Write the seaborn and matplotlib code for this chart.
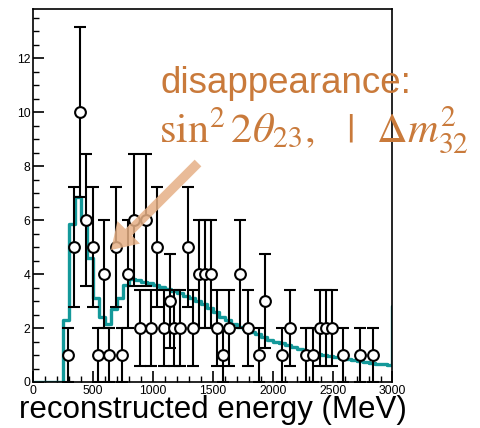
import numpy as np
import pandas as pd
import matplotlib
matplotlib.use("Agg")
import matplotlib.pyplot as plt
import seaborn as sns
from matplotlib.ticker import MultipleLocator

# ---- data ----
bin_edges = list(range(0, 3051, 50))
pred_values = [0, 0, 0, 0, 0,
               2.3, 5.85, 6.86, 6.0, 4.6, 3.1, 2.4, 2.15, 2.7, 3.1,
               3.6, 3.8, 3.78, 3.72, 3.65, 3.6, 3.52, 3.45, 3.38, 3.3,
               3.2, 3.1, 3.0, 2.9, 2.75, 2.58, 2.42, 2.28, 2.15, 2.05,
               1.95, 1.86, 1.76, 1.66, 1.57, 1.5, 1.43, 1.37, 1.3, 1.23,
               1.16, 1.1, 1.05, 1.0, 0.97, 0.93, 0.89, 0.85, 0.81, 0.78,
               0.75, 0.71, 0.68, 0.66, 0.63,
               2.83]
data_energy = [290, 340, 391, 439, 495, 540, 592, 636, 690, 737, 787, 842,
               888, 940, 986, 1036, 1088, 1140, 1177, 1229, 1292, 1330, 1382,
               1435, 1487, 1535, 1588, 1638, 1725, 1789, 1884, 1937, 2080,
               2143, 2280, 2332, 2396, 2443, 2494, 2583, 2728, 2834]
data_counts = [1, 5, 10, 6, 5, 1, 4, 1, 5, 1, 4, 6,
               2, 6, 2, 5, 2, 3, 2, 2, 5, 2, 4,
               4, 4, 2, 1, 2, 4, 2, 1, 3, 1,
               2, 1, 1, 2, 2, 2, 1, 1, 1]
x_ticks = [0, 500, 1000, 1500, 2000, 2500, 3000]
y_ticks = [0, 2, 4, 6, 8, 10, 12]

teal = "#14999a"
orange = "#c97a3b"
arrow_col = "#e6b086"

sns.set_style("ticks")
plt.rcParams["font.family"] = ["Liberation Sans", "DejaVu Sans"]
plt.rcParams["mathtext.fontset"] = "stix"
plt.rcParams["text.color"] = "black"
plt.rcParams["xtick.color"] = "black"
plt.rcParams["ytick.color"] = "black"
plt.rcParams["axes.labelcolor"] = "black"

W, H = 481, 428
fig = plt.figure(figsize=(W / 100, H / 100), dpi=100)
ax = fig.add_axes([33.3 / W, 1 - 382 / H, (392.5 - 33.3) / W, (382 - 9) / H])

centers = [(a + b) / 2 for a, b in zip(bin_edges[:-1], bin_edges[1:])]
pred_df = pd.DataFrame({"energy": centers, "weight": pred_values})
sns.histplot(data=pred_df, x="energy", weights="weight", bins=bin_edges,
             element="step", fill=False, color=teal, linewidth=2.4, ax=ax,
             zorder=2)

e = np.array(data_energy, dtype=float)
n = np.array(data_counts, dtype=float)
ax.errorbar(e, n, yerr=np.sqrt(n), fmt="none", ecolor="black",
            elinewidth=1.5, capsize=4.3, capthick=1.5, zorder=3)
data_df = pd.DataFrame({"energy": e, "count": n})
sns.scatterplot(data=data_df, x="energy", y="count", marker="o", s=60,
                facecolor="white", edgecolor="black", linewidth=1.5, ax=ax,
                zorder=4)

ax.set_xlim(0, 3000)
ax.set_ylim(0, 13.82)
ax.set_xticks(x_ticks)
ax.set_yticks(y_ticks)
ax.xaxis.set_minor_locator(MultipleLocator(100))
ax.yaxis.set_minor_locator(MultipleLocator(0.5))
ax.tick_params(which="major", direction="in", length=8, width=1.2,
               labelsize=8.8, top=False, right=False, colors="black")
ax.tick_params(which="minor", direction="in", length=4, width=1.0,
               top=False, right=False, colors="black")
ax.tick_params(axis="y", pad=2)
ax.tick_params(axis="x", pad=2)
for s in ax.spines.values():
    s.set_linewidth(1.2)
    s.set_color("black")
ax.set_ylabel("")
ax.set_xlabel("reconstructed energy (MeV)", fontsize=22.5, labelpad=-1,
              color="black")

fig.text(160 / W, 1 - 93 / H, "disappearance:", fontsize=26.5, color=orange,
         ha="left", va="baseline")
fig.text(159 / W, 1 - 142 / H,
         r"$\mathrm{sin}^2\,2\theta_{23},\;\;\;|\;\;\,\Delta m^2_{32}$",
         fontsize=30.5, color=orange, ha="left", va="baseline")

ax.annotate("", xy=(111, H - 250), xycoords="figure pixels",
            xytext=(198, H - 163), textcoords="figure pixels",
            arrowprops=dict(arrowstyle="simple,head_length=0.9,head_width=1.15,tail_width=0.34",
                            color=arrow_col, alpha=0.85, mutation_scale=20,
                            shrinkA=0, shrinkB=0, lw=0), zorder=5)

fig.savefig("out.png", dpi=100)
